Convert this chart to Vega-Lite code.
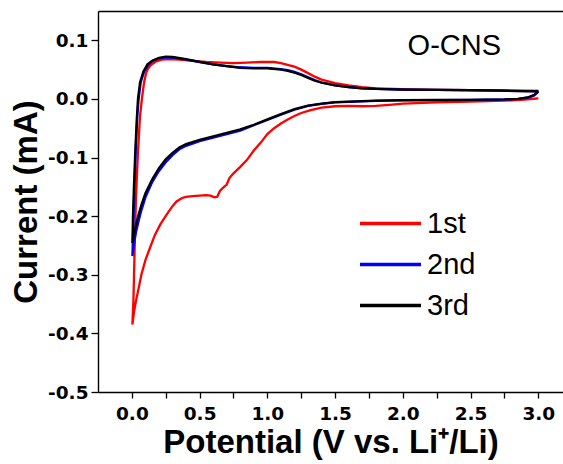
{
  "$schema": "https://vega.github.io/schema/vega-lite/v6.json",
  "width": 465,
  "height": 381,
  "autosize": {"type": "none"},
  "padding": {"left": 98, "top": 11, "right": 0, "bottom": 72},
  "background": "white",
  "config": {
    "view": {"stroke": null, "fill": null},
    "axis": {
      "grid": false,
      "domainColor": "black",
      "domainWidth": 1.4,
      "tickColor": "black",
      "tickWidth": 1.3,
      "tickOpacity": 1,
      "labelFont": "DejaVu Sans",
      "labelFontWeight": "bold",
      "labelFontSize": 18.5,
      "labelColor": "black",
      "labelFlush": false,
      "labelOverlap": false,
      "titleFont": "Liberation Sans",
      "titleFontWeight": "bold",
      "titleFontSize": 33,
      "titleColor": "black"
    }
  },
  "layer": [
    {
      "data": {
        "values": [
          {"s": "1st", "i": 1, "v": 3.0, "c": 0.001},
          {"s": "1st", "i": 2, "v": 2.9, "c": -0.001},
          {"s": "1st", "i": 3, "v": 2.75, "c": -0.003},
          {"s": "1st", "i": 4, "v": 2.5, "c": -0.0045},
          {"s": "1st", "i": 5, "v": 2.25, "c": -0.006},
          {"s": "1st", "i": 6, "v": 2.0, "c": -0.008},
          {"s": "1st", "i": 7, "v": 1.9, "c": -0.010},
          {"s": "1st", "i": 8, "v": 1.8, "c": -0.012},
          {"s": "1st", "i": 9, "v": 1.7, "c": -0.0125},
          {"s": "1st", "i": 10, "v": 1.6, "c": -0.012},
          {"s": "1st", "i": 11, "v": 1.5, "c": -0.0125},
          {"s": "1st", "i": 12, "v": 1.4, "c": -0.015},
          {"s": "1st", "i": 13, "v": 1.32, "c": -0.019},
          {"s": "1st", "i": 14, "v": 1.25, "c": -0.024},
          {"s": "1st", "i": 15, "v": 1.2, "c": -0.029},
          {"s": "1st", "i": 16, "v": 1.15, "c": -0.035},
          {"s": "1st", "i": 17, "v": 1.1, "c": -0.042},
          {"s": "1st", "i": 18, "v": 1.05, "c": -0.05},
          {"s": "1st", "i": 19, "v": 1.0, "c": -0.06},
          {"s": "1st", "i": 20, "v": 0.95, "c": -0.075},
          {"s": "1st", "i": 21, "v": 0.9, "c": -0.088},
          {"s": "1st", "i": 22, "v": 0.85, "c": -0.104},
          {"s": "1st", "i": 23, "v": 0.8, "c": -0.116},
          {"s": "1st", "i": 24, "v": 0.75, "c": -0.127},
          {"s": "1st", "i": 25, "v": 0.72, "c": -0.135},
          {"s": "1st", "i": 26, "v": 0.7, "c": -0.146},
          {"s": "1st", "i": 27, "v": 0.67, "c": -0.152},
          {"s": "1st", "i": 28, "v": 0.65, "c": -0.157},
          {"s": "1st", "i": 29, "v": 0.63, "c": -0.167},
          {"s": "1st", "i": 30, "v": 0.61, "c": -0.168},
          {"s": "1st", "i": 31, "v": 0.58, "c": -0.165},
          {"s": "1st", "i": 32, "v": 0.55, "c": -0.164},
          {"s": "1st", "i": 33, "v": 0.5, "c": -0.165},
          {"s": "1st", "i": 34, "v": 0.45, "c": -0.166},
          {"s": "1st", "i": 35, "v": 0.4, "c": -0.167},
          {"s": "1st", "i": 36, "v": 0.37, "c": -0.169},
          {"s": "1st", "i": 37, "v": 0.33, "c": -0.175},
          {"s": "1st", "i": 38, "v": 0.3, "c": -0.183},
          {"s": "1st", "i": 39, "v": 0.26, "c": -0.196},
          {"s": "1st", "i": 40, "v": 0.21, "c": -0.214},
          {"s": "1st", "i": 41, "v": 0.17, "c": -0.232},
          {"s": "1st", "i": 42, "v": 0.14, "c": -0.25},
          {"s": "1st", "i": 43, "v": 0.1, "c": -0.275},
          {"s": "1st", "i": 44, "v": 0.07, "c": -0.3},
          {"s": "1st", "i": 45, "v": 0.05, "c": -0.323},
          {"s": "1st", "i": 46, "v": 0.03, "c": -0.345},
          {"s": "1st", "i": 47, "v": 0.015, "c": -0.365},
          {"s": "1st", "i": 48, "v": 0.004, "c": -0.385},
          {"s": "1st", "i": 49, "v": 0.012, "c": -0.34},
          {"s": "1st", "i": 50, "v": 0.02, "c": -0.26},
          {"s": "1st", "i": 51, "v": 0.03, "c": -0.17},
          {"s": "1st", "i": 52, "v": 0.045, "c": -0.09},
          {"s": "1st", "i": 53, "v": 0.06, "c": -0.03},
          {"s": "1st", "i": 54, "v": 0.074, "c": 0.0},
          {"s": "1st", "i": 55, "v": 0.09, "c": 0.028},
          {"s": "1st", "i": 56, "v": 0.105, "c": 0.044},
          {"s": "1st", "i": 57, "v": 0.12, "c": 0.052},
          {"s": "1st", "i": 58, "v": 0.14, "c": 0.058},
          {"s": "1st", "i": 59, "v": 0.18, "c": 0.064},
          {"s": "1st", "i": 60, "v": 0.22, "c": 0.067},
          {"s": "1st", "i": 61, "v": 0.28, "c": 0.068},
          {"s": "1st", "i": 62, "v": 0.35, "c": 0.067},
          {"s": "1st", "i": 63, "v": 0.45, "c": 0.065},
          {"s": "1st", "i": 64, "v": 0.55, "c": 0.063},
          {"s": "1st", "i": 65, "v": 0.65, "c": 0.062},
          {"s": "1st", "i": 66, "v": 0.75, "c": 0.061},
          {"s": "1st", "i": 67, "v": 0.85, "c": 0.062},
          {"s": "1st", "i": 68, "v": 0.95, "c": 0.063},
          {"s": "1st", "i": 69, "v": 1.05, "c": 0.063},
          {"s": "1st", "i": 70, "v": 1.1, "c": 0.061},
          {"s": "1st", "i": 71, "v": 1.15, "c": 0.058},
          {"s": "1st", "i": 72, "v": 1.2, "c": 0.055},
          {"s": "1st", "i": 73, "v": 1.25, "c": 0.05},
          {"s": "1st", "i": 74, "v": 1.3, "c": 0.044},
          {"s": "1st", "i": 75, "v": 1.35, "c": 0.038},
          {"s": "1st", "i": 76, "v": 1.4, "c": 0.033},
          {"s": "1st", "i": 77, "v": 1.45, "c": 0.03},
          {"s": "1st", "i": 78, "v": 1.5, "c": 0.027},
          {"s": "1st", "i": 79, "v": 1.6, "c": 0.023},
          {"s": "1st", "i": 80, "v": 1.7, "c": 0.02},
          {"s": "1st", "i": 81, "v": 1.8, "c": 0.018},
          {"s": "1st", "i": 82, "v": 2.0, "c": 0.0165},
          {"s": "1st", "i": 83, "v": 2.25, "c": 0.0155},
          {"s": "1st", "i": 84, "v": 2.5, "c": 0.0148},
          {"s": "1st", "i": 85, "v": 2.75, "c": 0.014},
          {"s": "1st", "i": 86, "v": 3.0, "c": 0.013},

          {"s": "2nd", "i": 1, "v": 3.0, "c": 0.0125},
          {"s": "2nd", "i": 2, "v": 2.97, "c": 0.006},
          {"s": "2nd", "i": 3, "v": 2.92, "c": 0.002},
          {"s": "2nd", "i": 4, "v": 2.85, "c": 0.0},
          {"s": "2nd", "i": 5, "v": 2.75, "c": -0.001},
          {"s": "2nd", "i": 6, "v": 2.5, "c": -0.0017},
          {"s": "2nd", "i": 7, "v": 2.25, "c": -0.002},
          {"s": "2nd", "i": 8, "v": 2.0, "c": -0.0025},
          {"s": "2nd", "i": 9, "v": 1.8, "c": -0.0035},
          {"s": "2nd", "i": 10, "v": 1.6, "c": -0.005},
          {"s": "2nd", "i": 11, "v": 1.5, "c": -0.006},
          {"s": "2nd", "i": 12, "v": 1.4, "c": -0.0085},
          {"s": "2nd", "i": 13, "v": 1.3, "c": -0.012},
          {"s": "2nd", "i": 14, "v": 1.2, "c": -0.0185},
          {"s": "2nd", "i": 15, "v": 1.1, "c": -0.027},
          {"s": "2nd", "i": 16, "v": 1.0, "c": -0.036},
          {"s": "2nd", "i": 17, "v": 0.9, "c": -0.045},
          {"s": "2nd", "i": 18, "v": 0.8, "c": -0.054},
          {"s": "2nd", "i": 19, "v": 0.7, "c": -0.06},
          {"s": "2nd", "i": 20, "v": 0.6, "c": -0.066},
          {"s": "2nd", "i": 21, "v": 0.5, "c": -0.072},
          {"s": "2nd", "i": 22, "v": 0.4, "c": -0.08},
          {"s": "2nd", "i": 23, "v": 0.35, "c": -0.086},
          {"s": "2nd", "i": 24, "v": 0.3, "c": -0.096},
          {"s": "2nd", "i": 25, "v": 0.25, "c": -0.108},
          {"s": "2nd", "i": 26, "v": 0.2, "c": -0.123},
          {"s": "2nd", "i": 27, "v": 0.15, "c": -0.142},
          {"s": "2nd", "i": 28, "v": 0.1, "c": -0.168},
          {"s": "2nd", "i": 29, "v": 0.07, "c": -0.19},
          {"s": "2nd", "i": 30, "v": 0.05, "c": -0.208},
          {"s": "2nd", "i": 31, "v": 0.03, "c": -0.228},
          {"s": "2nd", "i": 32, "v": 0.015, "c": -0.248},
          {"s": "2nd", "i": 33, "v": 0.004, "c": -0.268},
          {"s": "2nd", "i": 34, "v": 0.01, "c": -0.22},
          {"s": "2nd", "i": 35, "v": 0.018, "c": -0.16},
          {"s": "2nd", "i": 36, "v": 0.028, "c": -0.09},
          {"s": "2nd", "i": 37, "v": 0.04, "c": -0.03},
          {"s": "2nd", "i": 38, "v": 0.05, "c": 0.0},
          {"s": "2nd", "i": 39, "v": 0.065, "c": 0.028},
          {"s": "2nd", "i": 40, "v": 0.09, "c": 0.046},
          {"s": "2nd", "i": 41, "v": 0.12, "c": 0.058},
          {"s": "2nd", "i": 42, "v": 0.16, "c": 0.066},
          {"s": "2nd", "i": 43, "v": 0.2, "c": 0.069},
          {"s": "2nd", "i": 44, "v": 0.26, "c": 0.071},
          {"s": "2nd", "i": 45, "v": 0.32, "c": 0.07},
          {"s": "2nd", "i": 46, "v": 0.4, "c": 0.067},
          {"s": "2nd", "i": 47, "v": 0.5, "c": 0.063},
          {"s": "2nd", "i": 48, "v": 0.6, "c": 0.059},
          {"s": "2nd", "i": 49, "v": 0.7, "c": 0.056},
          {"s": "2nd", "i": 50, "v": 0.8, "c": 0.054},
          {"s": "2nd", "i": 51, "v": 0.9, "c": 0.053},
          {"s": "2nd", "i": 52, "v": 1.0, "c": 0.053},
          {"s": "2nd", "i": 53, "v": 1.1, "c": 0.051},
          {"s": "2nd", "i": 54, "v": 1.15, "c": 0.049},
          {"s": "2nd", "i": 55, "v": 1.2, "c": 0.046},
          {"s": "2nd", "i": 56, "v": 1.25, "c": 0.042},
          {"s": "2nd", "i": 57, "v": 1.3, "c": 0.037},
          {"s": "2nd", "i": 58, "v": 1.35, "c": 0.032},
          {"s": "2nd", "i": 59, "v": 1.4, "c": 0.028},
          {"s": "2nd", "i": 60, "v": 1.5, "c": 0.023},
          {"s": "2nd", "i": 61, "v": 1.6, "c": 0.02},
          {"s": "2nd", "i": 62, "v": 1.7, "c": 0.018},
          {"s": "2nd", "i": 63, "v": 1.8, "c": 0.017},
          {"s": "2nd", "i": 64, "v": 2.0, "c": 0.016},
          {"s": "2nd", "i": 65, "v": 2.25, "c": 0.0153},
          {"s": "2nd", "i": 66, "v": 2.5, "c": 0.015},
          {"s": "2nd", "i": 67, "v": 2.75, "c": 0.014},
          {"s": "2nd", "i": 68, "v": 3.0, "c": 0.013},

          {"s": "3rd", "i": 1, "v": 3.0, "c": 0.013},
          {"s": "3rd", "i": 2, "v": 2.97, "c": 0.007},
          {"s": "3rd", "i": 3, "v": 2.92, "c": 0.0025},
          {"s": "3rd", "i": 4, "v": 2.85, "c": 0.0},
          {"s": "3rd", "i": 5, "v": 2.75, "c": -0.0008},
          {"s": "3rd", "i": 6, "v": 2.5, "c": -0.0015},
          {"s": "3rd", "i": 7, "v": 2.25, "c": -0.0018},
          {"s": "3rd", "i": 8, "v": 2.0, "c": -0.0022},
          {"s": "3rd", "i": 9, "v": 1.8, "c": -0.003},
          {"s": "3rd", "i": 10, "v": 1.6, "c": -0.0045},
          {"s": "3rd", "i": 11, "v": 1.5, "c": -0.0055},
          {"s": "3rd", "i": 12, "v": 1.4, "c": -0.008},
          {"s": "3rd", "i": 13, "v": 1.3, "c": -0.0115},
          {"s": "3rd", "i": 14, "v": 1.2, "c": -0.0175},
          {"s": "3rd", "i": 15, "v": 1.1, "c": -0.026},
          {"s": "3rd", "i": 16, "v": 1.0, "c": -0.035},
          {"s": "3rd", "i": 17, "v": 0.9, "c": -0.044},
          {"s": "3rd", "i": 18, "v": 0.8, "c": -0.052},
          {"s": "3rd", "i": 19, "v": 0.7, "c": -0.058},
          {"s": "3rd", "i": 20, "v": 0.6, "c": -0.064},
          {"s": "3rd", "i": 21, "v": 0.5, "c": -0.07},
          {"s": "3rd", "i": 22, "v": 0.4, "c": -0.077},
          {"s": "3rd", "i": 23, "v": 0.35, "c": -0.083},
          {"s": "3rd", "i": 24, "v": 0.3, "c": -0.092},
          {"s": "3rd", "i": 25, "v": 0.25, "c": -0.103},
          {"s": "3rd", "i": 26, "v": 0.2, "c": -0.118},
          {"s": "3rd", "i": 27, "v": 0.15, "c": -0.137},
          {"s": "3rd", "i": 28, "v": 0.1, "c": -0.161},
          {"s": "3rd", "i": 29, "v": 0.07, "c": -0.181},
          {"s": "3rd", "i": 30, "v": 0.05, "c": -0.197},
          {"s": "3rd", "i": 31, "v": 0.03, "c": -0.215},
          {"s": "3rd", "i": 32, "v": 0.015, "c": -0.232},
          {"s": "3rd", "i": 33, "v": 0.004, "c": -0.246},
          {"s": "3rd", "i": 34, "v": 0.008, "c": -0.2},
          {"s": "3rd", "i": 35, "v": 0.015, "c": -0.15},
          {"s": "3rd", "i": 36, "v": 0.025, "c": -0.09},
          {"s": "3rd", "i": 37, "v": 0.036, "c": -0.035},
          {"s": "3rd", "i": 38, "v": 0.045, "c": 0.0},
          {"s": "3rd", "i": 39, "v": 0.06, "c": 0.028},
          {"s": "3rd", "i": 40, "v": 0.085, "c": 0.047},
          {"s": "3rd", "i": 41, "v": 0.115, "c": 0.059},
          {"s": "3rd", "i": 42, "v": 0.15, "c": 0.065},
          {"s": "3rd", "i": 43, "v": 0.2, "c": 0.07},
          {"s": "3rd", "i": 44, "v": 0.25, "c": 0.072},
          {"s": "3rd", "i": 45, "v": 0.3, "c": 0.0715},
          {"s": "3rd", "i": 46, "v": 0.4, "c": 0.068},
          {"s": "3rd", "i": 47, "v": 0.5, "c": 0.063},
          {"s": "3rd", "i": 48, "v": 0.6, "c": 0.059},
          {"s": "3rd", "i": 49, "v": 0.7, "c": 0.056},
          {"s": "3rd", "i": 50, "v": 0.8, "c": 0.053},
          {"s": "3rd", "i": 51, "v": 0.9, "c": 0.052},
          {"s": "3rd", "i": 52, "v": 1.0, "c": 0.052},
          {"s": "3rd", "i": 53, "v": 1.1, "c": 0.05},
          {"s": "3rd", "i": 54, "v": 1.15, "c": 0.048},
          {"s": "3rd", "i": 55, "v": 1.2, "c": 0.045},
          {"s": "3rd", "i": 56, "v": 1.25, "c": 0.041},
          {"s": "3rd", "i": 57, "v": 1.3, "c": 0.036},
          {"s": "3rd", "i": 58, "v": 1.35, "c": 0.031},
          {"s": "3rd", "i": 59, "v": 1.4, "c": 0.028},
          {"s": "3rd", "i": 60, "v": 1.5, "c": 0.023},
          {"s": "3rd", "i": 61, "v": 1.6, "c": 0.02},
          {"s": "3rd", "i": 62, "v": 1.7, "c": 0.018},
          {"s": "3rd", "i": 63, "v": 1.8, "c": 0.017},
          {"s": "3rd", "i": 64, "v": 2.0, "c": 0.016},
          {"s": "3rd", "i": 65, "v": 2.25, "c": 0.0153},
          {"s": "3rd", "i": 66, "v": 2.5, "c": 0.015},
          {"s": "3rd", "i": 67, "v": 2.75, "c": 0.014},
          {"s": "3rd", "i": 68, "v": 3.0, "c": 0.0135}
        ]
      },
      "mark": {"type": "line", "strokeWidth": 2.3, "clip": true},
      "encoding": {
        "x": {
          "field": "v",
          "type": "quantitative",
          "scale": {"domain": [-0.25, 3.182], "nice": false, "zero": false},
          "axis": {
            "orient": "bottom",
            "zindex": 1,
            "values": [0, 0.25, 0.5, 0.75, 1, 1.25, 1.5, 1.75, 2, 2.25, 2.5, 2.75, 3],
            "labelExpr": "abs(datum.value*2 - round(datum.value*2)) < 0.001 ? format(datum.value, '.1f') : ''",
            "ticks": true,
            "tickSize": 6,
            "labelFontSize": 18.5,
            "labelPadding": 6,
            "encode": {"ticks": {"update": {"y2": {"signal": "abs(datum.value*2 - round(datum.value*2)) < 0.001 ? -6 : -4"}}}},
            "title": "Potential (V vs. Li⁺/Li)",
            "titlePadding": 4
          }
        },
        "y": {
          "field": "c",
          "type": "quantitative",
          "scale": {"domain": [-0.5, 0.15], "nice": false, "zero": false},
          "axis": {
            "zindex": 1,
            "values": [-0.5, -0.45, -0.4, -0.35, -0.3, -0.25, -0.2, -0.15, -0.1, -0.05, 0, 0.05, 0.1],
            "labelExpr": "abs(datum.value*10 - round(datum.value*10)) < 0.001 ? replace(format(datum.value, '.1f'), '−', '-') : ''",
            "ticks": true,
            "tickSize": 7,
            "labelFontSize": 18.5,
            "labelPadding": 3,
            "encode": {"ticks": {"update": {"x2": {"signal": "abs(datum.value*10 - round(datum.value*10)) < 0.001 ? 7 : 4"}}}},
            "title": "Current (mA)",
            "titlePadding": 4
          }
        },
        "color": {
          "field": "s",
          "type": "nominal",
          "scale": {"domain": ["1st", "2nd", "3rd"], "range": ["#ff0000", "#0000ff", "#000000"]},
          "legend": {
            "orient": "none",
            "legendX": 260,
            "legendY": 192,
            "title": null,
            "padding": 0,
            "symbolType": "stroke",
            "symbolSize": 3721,
            "symbolStrokeWidth": 3.5,
            "labelFont": "Liberation Sans",
            "labelFontSize": 29,
            "labelColor": "black",
            "labelOffset": 4,
            "clipHeight": 41,
            "rowPadding": 0
          }
        },
        "order": {"field": "i", "type": "quantitative"}
      }
    },
    {
      "data": {"values": [{"v": 2.38, "c": 0.091, "t": "O-CNS"}]},
      "mark": {"type": "text", "font": "Liberation Sans", "fontSize": 29, "align": "center", "baseline": "middle", "color": "black"},
      "encoding": {
        "x": {
          "field": "v",
          "type": "quantitative",
          "scale": {"domain": [-0.25, 3.182], "nice": false, "zero": false},
          "axis": {"orient": "top", "labels": false, "ticks": false, "title": null, "domain": true, "zindex": 1}
        },
        "y": {
          "field": "c",
          "type": "quantitative",
          "scale": {"domain": [-0.5, 0.15], "nice": false, "zero": false}
        },
        "text": {"field": "t"}
      }
    }
  ],
  "resolve": {"axis": {"x": "independent"}}
}
